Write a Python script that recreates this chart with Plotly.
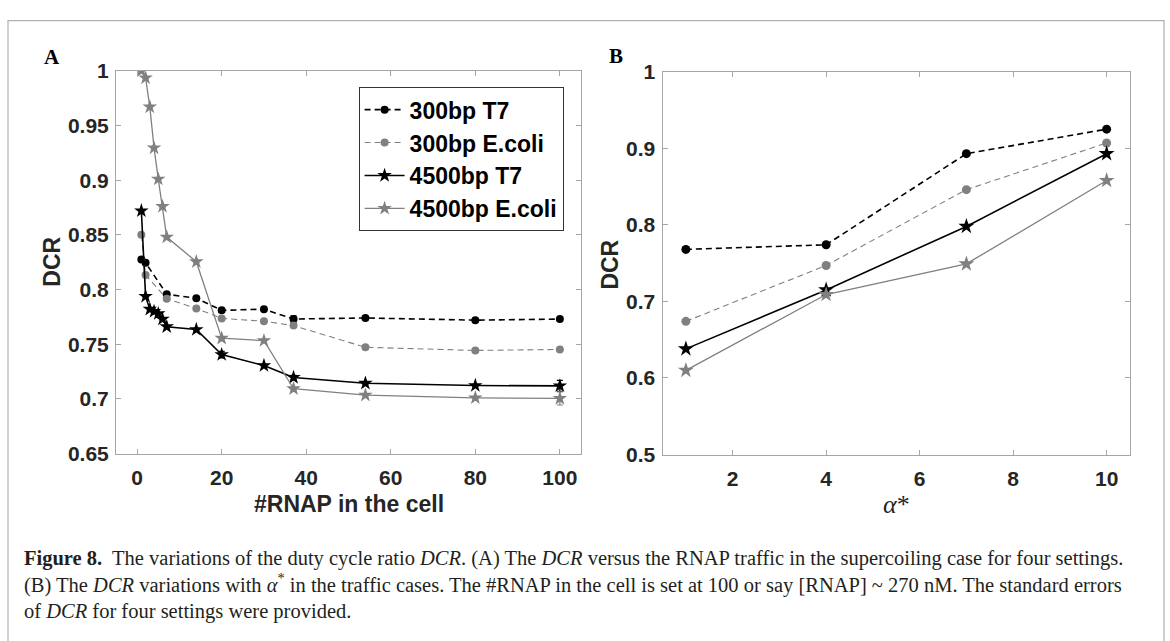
import plotly.graph_objects as go

# ---------------- data ----------------
rnap_circ = [1, 2, 7, 14, 20, 30, 37, 54, 80, 100]
rnap_star = [1, 2, 3, 4, 5, 6, 7, 14, 20, 30, 37, 54, 80, 100]

a_300_t7 = [0.8275, 0.8245, 0.7957, 0.792, 0.781, 0.782, 0.773, 0.774, 0.772, 0.773]
a_300_t7_err = [0.001, 0.001, 0.001, 0.001, 0.002, 0.001, 0.003, 0.001, 0.001, 0.001]
a_300_ec = [0.850, 0.8133, 0.7916, 0.7827, 0.7736, 0.771, 0.767, 0.7472, 0.7443, 0.7452]
a_300_ec_err = [0.001, 0.001, 0.001, 0.001, 0.001, 0.001, 0.001, 0.001, 0.001, 0.001]
a_4500_t7 = [0.872, 0.7937, 0.782, 0.780, 0.778, 0.773, 0.766, 0.7634, 0.7405, 0.7305, 0.7196, 0.7143, 0.7122, 0.7119]
a_4500_t7_err = [0.001, 0.001, 0.001, 0.001, 0.001, 0.001, 0.001, 0.001, 0.003, 0.001, 0.002, 0.001, 0.001, 0.005]
a_4500_ec = [1.0, 0.9935, 0.967, 0.9295, 0.901, 0.876, 0.848, 0.8254, 0.7555, 0.7533, 0.7093, 0.7034, 0.701, 0.7004]
a_4500_ec_err = [0.001, 0.001, 0.001, 0.001, 0.001, 0.001, 0.001, 0.001, 0.001, 0.001, 0.001, 0.001, 0.001, 0.006]

alpha = [1, 4, 7, 10]
b_300_t7 = [0.768, 0.774, 0.893, 0.925]
b_300_ec = [0.674, 0.747, 0.846, 0.907]
b_4500_t7 = [0.638, 0.715, 0.798, 0.893]
b_4500_ec = [0.610, 0.709, 0.749, 0.858]

names = ["300bp T7", "300bp E.coli", "4500bp T7", "4500bp E.coli"]

xa_ticks = [0, 20, 40, 60, 80, 100]
ya_ticks = [0.65, 0.7, 0.75, 0.8, 0.85, 0.9, 0.95, 1]
ya_text = ["0.65", "0.7", "0.75", "0.8", "0.85", "0.9", "0.95", "1"]
xb_ticks = [2, 4, 6, 8, 10]
yb_ticks = [0.5, 0.6, 0.7, 0.8, 0.9, 1]
yb_text = ["0.5", "0.6", "0.7", "0.8", "0.9", "1"]

caption = [
    "<b>Figure 8.</b>  The variations of the duty cycle ratio <i>DCR</i>. (A) The <i>DCR</i> versus the RNAP traffic in the supercoiling case for four settings.",
    "(B) The <i>DCR</i> variations with <i>α</i><sup>*</sup> in the traffic cases. The #RNAP in the cell is set at 100 or say [RNAP] ~ 270 nM. The standard errors",
    "of <i>DCR</i> for four settings were provided.",
]

# ---------------- style ----------------
W, H = 1170, 641
BLACK = "#000000"
GRAY = "#808080"
AX = "#a6a6a6"
TXT = "#262626"
SANS = "Liberation Sans, Arial, sans-serif"
SERIF = "Liberation Serif, Times New Roman, serif"

def px(x):
    return x / W

def py(y):
    return 1 - y / H

styles = [
    dict(color=BLACK, dash="6px,4px", width=1.6, symbol="circle", msize=8),
    dict(color=GRAY, dash="6px,4px", width=1.1, symbol="circle", msize=8),
    dict(color=BLACK, dash="solid", width=1.6, symbol="star", msize=11),
    dict(color=GRAY, dash="solid", width=1.3, symbol="star", msize=11),
]

fig = go.Figure()

a_x = [rnap_circ, rnap_circ, rnap_star, rnap_star]
a_y = [a_300_t7, a_300_ec, a_4500_t7, a_4500_ec]
a_e = [a_300_t7_err, a_300_ec_err, a_4500_t7_err, a_4500_ec_err]
for i in range(4):
    s = styles[i]
    fig.add_trace(go.Scatter(
        x=a_x[i], y=a_y[i], name=names[i], mode="lines+markers",
        line=dict(color=s["color"], dash=s["dash"], width=s["width"]),
        marker=dict(symbol=s["symbol"], size=s["msize"], color=s["color"]),
        error_y=dict(type="data", array=a_e[i], visible=True, color=s["color"], thickness=1.2, width=3),
        xaxis="x", yaxis="y", showlegend=True,
    ))

b_y = [b_300_t7, b_300_ec, b_4500_t7, b_4500_ec]
for i in range(4):
    s = styles[i]
    fig.add_trace(go.Scatter(
        x=alpha, y=b_y[i], name=names[i], mode="lines+markers",
        line=dict(color=s["color"], dash=s["dash"], width=s["width"]),
        marker=dict(symbol=s["symbol"], size=s["msize"] + 1, color=s["color"]),
        xaxis="x2", yaxis="y2", showlegend=False,
    ))

tickfont = dict(family=SANS, size=21, color=TXT, weight="bold")
common = dict(showline=True, linecolor=AX, linewidth=1, mirror="ticks", ticks="inside",
              ticklen=5, tickcolor=AX, showgrid=False, zeroline=False, tickfont=tickfont)

fig.update_layout(
    width=W, height=H,
    margin=dict(l=0, r=0, t=0, b=0),
    paper_bgcolor="white", plot_bgcolor="white",
    xaxis=dict(domain=[px(116), px(581)], range=[-5, 105], tickvals=xa_ticks, anchor="y",
               ticklabelstandoff=5, **common),
    yaxis=dict(domain=[py(458), py(61)], range=[0.65, 1], tickvals=ya_ticks, ticktext=ya_text, anchor="x",
               ticklabelstandoff=2, **common),
    xaxis2=dict(domain=[px(662.5), px(1130)], range=[0.5, 10.5], tickvals=xb_ticks, anchor="y2",
                ticklabelstandoff=5, **common),
    yaxis2=dict(domain=[py(459), py(62)], range=[0.5, 1], tickvals=yb_ticks, ticktext=yb_text, anchor="x2",
                ticklabelstandoff=2, **common),
    legend=dict(x=px(358.6), y=py(78), xanchor="left", yanchor="top",
                bordercolor="#333333", borderwidth=1, bgcolor="white",
                font=dict(family=SANS, size=23, color=BLACK, weight="bold"),
                tracegroupgap=0, itemwidth=40),
    showlegend=True,
)

ann = []

def add(text, x, y, font, angle=0, xa="center", ya="middle", align="center"):
    ann.append(dict(text=text, x=px(x), y=py(y), xref="paper", yref="paper", showarrow=False,
                    xanchor=xa, yanchor=ya, textangle=angle, font=font, align=align))

# panel letters
add("<b>A</b>", 52, 47, dict(family=SERIF, size=21, color=BLACK))
add("<b>B</b>", 616, 46, dict(family=SERIF, size=21, color=BLACK))
# axis titles
tf = dict(family=SANS, size=23, color=TXT, weight="bold")
add("DCR", 52, 259, tf, angle=-90)
add("#RNAP in the cell", 348.5, 510, tf)
add("DCR", 610, 262, tf, angle=-90)
add("<i>α</i>*", 896, 511, dict(family=SERIF, size=26, color=TXT))
# caption (one block of three lines)
add("<br>".join(caption), 22, 594, dict(family=SERIF, size=20.5, color="#231f20"), xa="left", align="left")
fig.update_layout(annotations=ann)

# outer frame
fig.add_shape(type="rect", xref="paper", yref="paper", x0=px(8), x1=px(1164), y0=-0.1, y1=py(9),
              line=dict(color="#b0b0b0", width=1.2), fillcolor="rgba(0,0,0,0)", layer="below")

fig.write_html("out.html")
